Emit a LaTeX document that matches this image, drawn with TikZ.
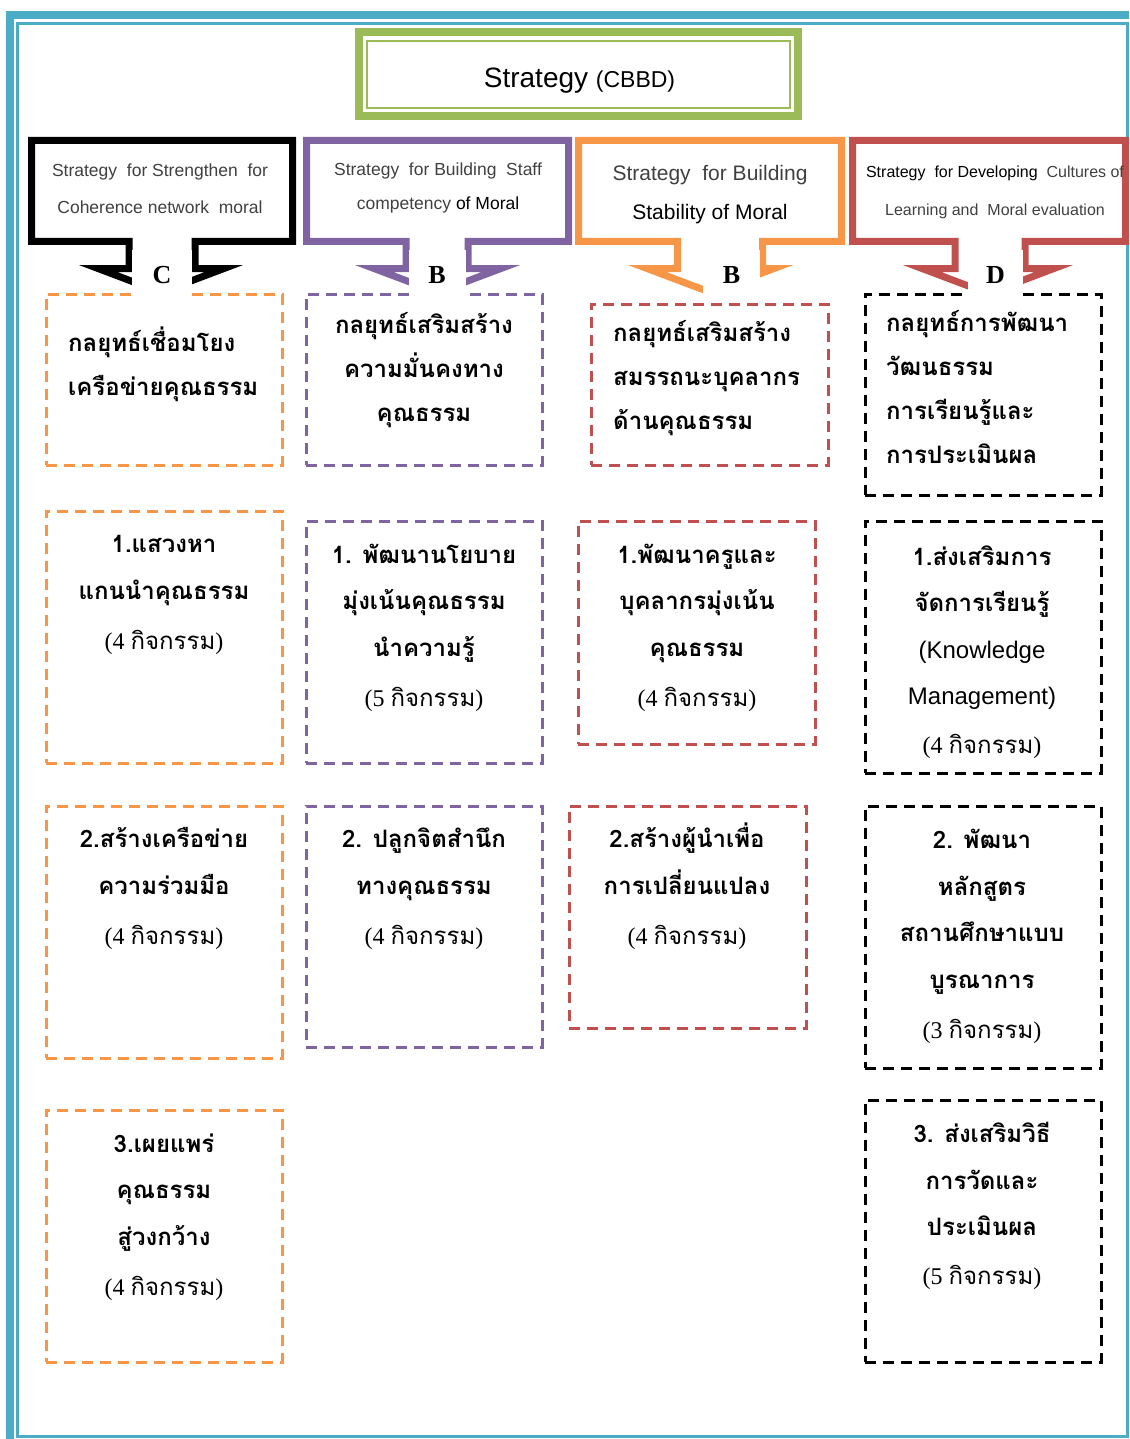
\documentclass[tikz,border=0pt]{standalone}
\usepackage{fontspec}
\setmainfont{Liberation Sans}
\newfontfamily\thai[Script=Thai]{Loma}
\newfontfamily\tnr{Liberation Serif}
\definecolor{frameblue}{HTML}{4BACC6}
\definecolor{titlegreen}{HTML}{9BBB59}
\definecolor{cborange}{HTML}{F79646}
\definecolor{cbpurple}{HTML}{8064A2}
\definecolor{cbred}{HTML}{C0504D}
\definecolor{txtgray}{HTML}{404040}
\newcommand{\kitja}[1]{{\mdseries\tnr(#1 \thai กิจกรรม\tnr)}}
\newcommand{\engl}[1]{{\normalfont\fontsize{24}{46.5}\selectfont #1}}

\begin{document}
\begin{tikzpicture}[x=1pt,y=-1pt,
	dbox/.style={draw=#1,line width=3pt,dash pattern=on 11pt off 7pt,inner sep=0,outer sep=0,anchor=north west},
	thtxt/.style={inner sep=0,anchor=base,align=center,font=\thai\bfseries\fontsize{24}{46.5}\selectfont},
	thhead/.style={inner sep=0,anchor=base west,align=left,font=\thai\bfseries\fontsize{24}{44}\selectfont},
	hdtxt/.style={inner sep=0,anchor=base,align=center,text=txtgray},
	calloutline/.style={draw=#1,line width=7pt,miter limit=10},
	lettertag/.style={fill=white,inner sep=0,minimum width=#1,minimum height=50pt,font=\tnr\bfseries\fontsize{26}{26}\selectfont},
	titlebox/.style={draw=titlegreen,line width=8pt,inner sep=0,outer sep=0,minimum width=439pt,minimum height=84pt}]
	\useasboundingbox (0,0) rectangle (1129,1439);
	\fill[frameblue] (6,11) rectangle (1129,19);
	\fill[frameblue] (6,11) rectangle (13.5,1439);
	\draw[frameblue,line width=2.5pt] (17.5,23.5) rectangle (1127.5,1436.5);

	\node[titlebox] (ttl) at (578.5,74) {};
	\draw[titlegreen,line width=2pt] ([xshift=7.5pt,yshift=-9.5pt]ttl.north west) rectangle ([xshift=-8pt,yshift=7.5pt]ttl.south east);
	\node[inner sep=0,anchor=base,font=\fontsize{28}{28}\selectfont] (ttltxt) at (579.5,88) {Strategy {\fontsize{23}{23}\selectfont(CBBD)}};

	\node[dbox=cborange,minimum width=236pt,minimum height=171pt] (a1) at (46,294) {};
	\node[dbox=cborange,minimum width=236pt,minimum height=252pt] (a2) at (46,511) {};
	\node[dbox=cborange,minimum width=236pt,minimum height=252pt] (a3) at (46,806) {};
	\node[dbox=cborange,minimum width=236pt,minimum height=252pt] (a4) at (46,1110) {};
	\node[dbox=cbpurple,minimum width=236pt,minimum height=171pt] (b1) at (306,294) {};
	\node[dbox=cbpurple,minimum width=236pt,minimum height=242pt] (b2) at (306,521) {};
	\node[dbox=cbpurple,minimum width=236pt,minimum height=241pt] (b3) at (306,806) {};
	\node[dbox=cbred,minimum width=237pt,minimum height=161pt] (c1) at (591,304) {};
	\node[dbox=cbred,minimum width=237pt,minimum height=223pt] (c2) at (578,521) {};
	\node[dbox=cbred,minimum width=237pt,minimum height=222pt] (c3) at (569,806) {};
	\node[dbox=black,minimum width=236pt,minimum height=201pt] (d1) at (865,294) {};
	\node[dbox=black,minimum width=236pt,minimum height=252pt] (d2) at (865,521) {};
	\node[dbox=black,minimum width=236pt,minimum height=262pt] (d3) at (865,806) {};
	\node[dbox=black,minimum width=236pt,minimum height=262pt] (d4) at (865,1100) {};

	\draw[calloutline=black] (161,292.3) -- (98,268.5) -- (129,268.5) -- (129,241.5) -- (31.5,241.5) -- (31.5,140.5) -- (292.5,140.5) -- (292.5,241.5) -- (195,241.5) -- (195,268.5) -- (224,268.5) -- cycle;
	\draw[calloutline=cbpurple] (437.5,292.4) -- (374,268.5) -- (406,268.5) -- (406,241.5) -- (306.5,241.5) -- (306.5,140.5) -- (568.5,140.5) -- (568.5,241.5) -- (468,241.5) -- (468,268.5) -- (501,268.5) -- cycle;
	\draw[calloutline=cborange] (710.5,292.4) -- (647,268.5) -- (677.5,268.5) -- (677.5,241.5) -- (578.5,241.5) -- (578.5,140.5) -- (841.5,140.5) -- (841.5,241.5) -- (762.5,241.5) -- (762.5,268.5) -- (774,268.5) -- cycle;
	\draw[calloutline=cbred] (988,293.4) -- (922,268.5) -- (955,268.5) -- (955,241.5) -- (852.5,241.5) -- (852.5,140.5) -- (1125.5,140.5) -- (1125.5,241.5) -- (1025,241.5) -- (1025,268.5) -- (1054,268.5) -- cycle;

	\node[lettertag=60pt] (lc) at (162,275) {C};
	\node[lettertag=57pt] (lb1) at (437,275) {B};
	\node[lettertag=57pt] (lb2) at (731.5,275) {B};
	\node[lettertag=55pt] (ld) at (995.5,275) {D};

	\node[hdtxt,font=\fontsize{17.5}{37}\selectfont] (h1) at (160,214) {Strategy\ \ for Strengthen\ \ for\\Coherence network\ \ moral};
	\node[hdtxt,font=\fontsize{17.5}{34}\selectfont] (h2) at (438,209.5) {Strategy\ \ for Building\ \ Staff\\competency {\color{black}of Moral}};
	\node[hdtxt,font=\fontsize{21}{39}\selectfont] (h3) at (710,219.5) {Strategy\ \ for Building\\{\color{black}Stability of Moral}};
	\node[hdtxt,font=\fontsize{16}{38}\selectfont] (h4) at (995,216) {{\color{black}Strategy\ \ for Developing}\ \ Cultures of\\Learning and\ \ Moral evaluation};

	\node[thhead] (a1t) at (68,395) {กลยุทธ์เชื่อมโยง\\เครือข่ายคุณธรรม};
	\node[thtxt,font=\thai\bfseries\fontsize{24}{44}\selectfont] (b1t) at (424,421) {กลยุทธ์เสริมสร้าง\\ความมั่นคงทาง\\คุณธรรม};
	\node[thhead] (c1t) at (613,429) {กลยุทธ์เสริมสร้าง\\สมรรถนะบุคลากร\\ด้านคุณธรรม};
	\node[thhead] (d1t) at (886,463) {กลยุทธ์การพัฒนา\\วัฒนธรรม\\การเรียนรู้และ\\การประเมินผล};

	\node[thtxt] (a2t) at (164,649) {1.แสวงหา\\แกนนำคุณธรรม\\[3.5pt]\kitja{4}};
	\node[thtxt] (a3t) at (164,944) {2.สร้างเครือข่าย\\ความร่วมมือ\\[3.5pt]\kitja{4}};
	\node[thtxt] (a4t) at (164,1295) {3.เผยแพร่\\คุณธรรม\\สู่วงกว้าง\\[3.5pt]\kitja{4}};
	\node[thtxt] (b2t) at (424,706) {1. พัฒนานโยบาย\\มุ่งเน้นคุณธรรม\\นำความรู้\\[3.5pt]\kitja{5}};
	\node[thtxt] (b3t) at (424,944) {2. ปลูกจิตสำนึก\\ทางคุณธรรม\\[3.5pt]\kitja{4}};
	\node[thtxt] (c2t) at (697,706) {1.พัฒนาครูและ\\บุคลากรมุ่งเน้น\\คุณธรรม\\[3.5pt]\kitja{4}};
	\node[thtxt] (c3t) at (687,944) {2.สร้างผู้นำเพื่อ\\การเปลี่ยนแปลง\\[3.5pt]\kitja{4}};
	\node[thtxt] (d2t) at (982,753) {1.ส่งเสริมการ\\จัดการเรียนรู้\\\engl{(Knowledge}\\\engl{Management)}\\[2pt]\kitja{4}};
	\node[thtxt] (d3t) at (982,1038) {2. พัฒนา\\หลักสูตร\\สถานศึกษาแบบ\\บูรณาการ\\[3.5pt]\kitja{3}};
	\node[thtxt] (d4t) at (982,1284) {3. ส่งเสริมวิธี\\การวัดและ\\ประเมินผล\\[2pt]\kitja{5}};
\end{tikzpicture}
\end{document}
